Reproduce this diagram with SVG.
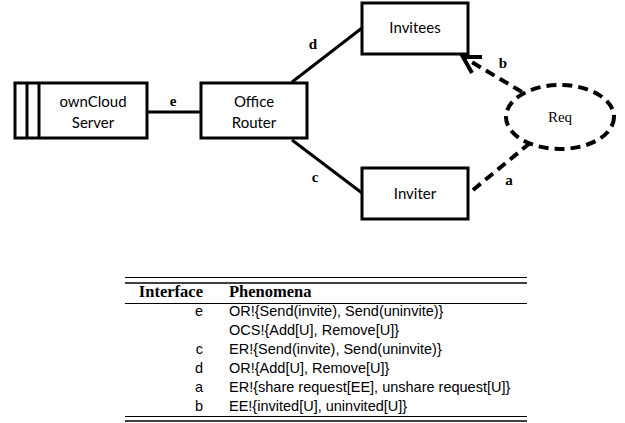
<svg xmlns="http://www.w3.org/2000/svg" width="625" height="423" viewBox="0 0 625 423">
<style>
.box{fill:#fff;stroke:#000;stroke-width:3}
.ln{fill:none;stroke:#000;stroke-width:3}
.dash{fill:none;stroke:#000;stroke-width:4;stroke-dasharray:10 6}
.lbl{font-family:"Lato","Liberation Sans",sans-serif;font-size:15px;text-anchor:middle;fill:#000}
.ser{font-family:"Liberation Serif",serif;font-size:15px;text-anchor:middle;fill:#000}
.edge{font-family:"Liberation Serif",serif;font-size:15px;font-weight:bold;text-anchor:middle;fill:#000}
.th{font-family:"Liberation Serif",serif;font-size:16.5px;font-weight:bold;fill:#000}
.td{font-family:"Liberation Sans",sans-serif;font-size:14.5px;fill:#000}
.r{text-anchor:end}
.rule{stroke:#000;stroke-width:1}
</style>
<g id="connectors">
<line class="ln" x1="147" y1="112" x2="201" y2="112"/>
<line class="ln" x1="292" y1="82" x2="362" y2="28"/>
<line class="ln" x1="292" y1="140" x2="362" y2="193"/>
<line class="dash" x1="522" y1="92" x2="465" y2="58"/>
<path d="M482,57 L463,57 L472,73" fill="none" stroke="#000" stroke-width="4" stroke-linejoin="miter"/>
<line class="dash" x1="473" y1="190" x2="530" y2="143"/>
<text class="edge" x="173" y="106">e</text>
<text class="edge" x="313" y="49">d</text>
<text class="edge" x="315" y="182">c</text>
<text class="edge" x="503" y="68">b</text>
<text class="edge" x="509" y="185">a</text>
</g>
<g id="owncloud">
<rect class="box" x="15" y="83" width="132" height="55"/>
<line class="ln" x1="27" y1="83" x2="27" y2="138"/>
<line class="ln" x1="39" y1="83" x2="39" y2="138"/>
<text class="lbl" x="93" y="107">ownCloud</text>
<text class="lbl" x="93" y="128">Server</text>
</g>
<g id="router">
<rect class="box" x="201" y="83" width="106" height="55"/>
<text class="lbl" x="254" y="107">Office</text>
<text class="lbl" x="254" y="128">Router</text>
</g>
<g id="invitees">
<rect class="box" x="362" y="3" width="106" height="51"/>
<text class="lbl" x="415" y="33">Invitees</text>
</g>
<g id="inviter">
<rect class="box" x="362" y="168" width="106" height="51"/>
<text class="lbl" x="415" y="199">Inviter</text>
</g>
<g id="req">
<ellipse class="dash" cx="560" cy="117" rx="54" ry="32" fill="#fff"/>
<text class="ser" x="560" y="122">Req</text>
</g>
<g id="table">
<line class="rule" x1="125" y1="277.5" x2="527" y2="277.5"/>
<line stroke="#000" stroke-width="1.5" x1="125" y1="283" x2="527" y2="283"/>
<line class="rule" x1="125" y1="303.5" x2="527" y2="303.5"/>
<text class="th r" x="203" y="297">Interface</text>
<text class="th" x="229" y="297">Phenomena</text>
<text class="td r" x="203" y="316">e</text>
<text class="td" x="229" y="316">OR!{Send(invite), Send(uninvite)}</text>
<text class="td" x="229" y="335">OCS!{Add[U], Remove[U]}</text>
<text class="td r" x="203" y="354">c</text>
<text class="td" x="229" y="354">ER!{Send(invite), Send(uninvite)}</text>
<text class="td r" x="203" y="373">d</text>
<text class="td" x="229" y="373">OR!{Add[U], Remove[U]}</text>
<text class="td r" x="203" y="392">a</text>
<text class="td" x="229" y="392">ER!{share request[EE], unshare request[U]}</text>
<text class="td r" x="203" y="411">b</text>
<text class="td" x="229" y="411">EE!{invited[U], uninvited[U]}</text>
<line class="rule" x1="125" y1="416.5" x2="527" y2="416.5"/>
<line stroke="#000" stroke-width="1.5" x1="125" y1="421" x2="527" y2="421"/>
</g>
</svg>
